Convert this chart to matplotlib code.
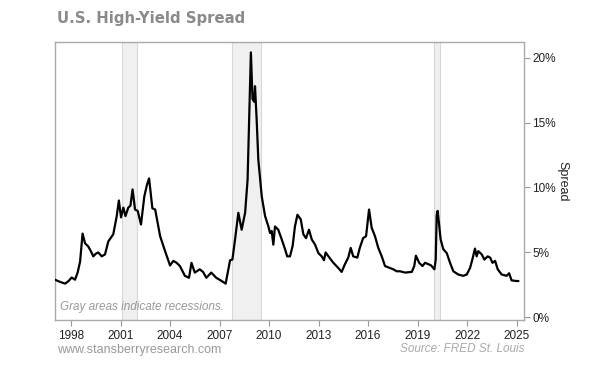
import numpy as np
import matplotlib
matplotlib.use("Agg")
import matplotlib.pyplot as plt
from matplotlib.ticker import FuncFormatter

# approximate high-yield spread readings (decimal year, percent)
years = [1997.03, 1997.3, 1997.64, 1997.85, 1998.04, 1998.24, 1998.4, 1998.55, 1998.7,
         1998.85, 1999.05, 1999.2, 1999.35, 1999.5, 1999.65, 1999.86, 2000.06, 2000.26,
         2000.56, 2000.77, 2000.9, 2001.03, 2001.17, 2001.3, 2001.47, 2001.6, 2001.73,
         2001.88, 2002.04, 2002.24, 2002.44, 2002.6, 2002.73, 2002.93, 2003.1, 2003.4,
         2003.7, 2004.0, 2004.2, 2004.4, 2004.6, 2004.9, 2005.15, 2005.3, 2005.5, 2005.8,
         2006.0, 2006.2, 2006.5, 2006.8, 2007.13, 2007.37, 2007.5, 2007.64, 2007.78,
         2007.94, 2008.14, 2008.34, 2008.55, 2008.7, 2008.79, 2008.9, 2009.0, 2009.1,
         2009.15, 2009.25, 2009.35, 2009.56, 2009.76, 2009.96, 2010.06, 2010.16, 2010.26,
         2010.36, 2010.56, 2010.77, 2010.97, 2011.1, 2011.27, 2011.43, 2011.57, 2011.72,
         2011.92, 2012.08, 2012.24, 2012.42, 2012.59, 2012.79, 2012.99, 2013.19, 2013.33,
         2013.43, 2013.6, 2013.9, 2014.2, 2014.4, 2014.6, 2014.8, 2014.95, 2015.1, 2015.35,
         2015.5, 2015.7, 2015.88, 2016.06, 2016.22, 2016.42, 2016.62, 2016.83, 2017.03,
         2017.33, 2017.53, 2017.74, 2017.94, 2018.24, 2018.65, 2018.8, 2018.9, 2019.1,
         2019.3, 2019.45, 2019.65, 2019.82, 2020.02, 2020.1, 2020.16, 2020.22, 2020.32,
         2020.4, 2020.56, 2020.77, 2020.97, 2021.17, 2021.47, 2021.77, 2021.98, 2022.18,
         2022.32, 2022.48, 2022.58, 2022.68, 2022.89, 2023.05, 2023.25, 2023.4, 2023.54,
         2023.7, 2023.86, 2024.1, 2024.4, 2024.55, 2024.7, 2025.0, 2025.1]
spread = [2.9, 2.75, 2.6, 2.8, 3.07, 2.9, 3.45, 4.3, 6.45,
          5.7, 5.45, 5.1, 4.7, 4.9, 5.0, 4.7, 4.85, 5.85,
          6.4, 7.8, 9.0, 7.7, 8.45, 7.8, 8.45, 8.6, 9.85,
          8.3, 8.2, 7.15, 9.3, 10.2, 10.7, 8.4, 8.3, 6.25,
          5.1, 4.0, 4.35, 4.2, 3.95, 3.2, 3.05, 4.2, 3.45, 3.7,
          3.5, 3.05, 3.45, 3.05, 2.8, 2.6, 3.45, 4.4, 4.45,
          6.0, 8.05, 6.75, 8.05, 10.6, 15.0, 20.4, 16.8, 16.6,
          17.8, 15.2, 12.15, 9.3, 7.8, 7.0, 6.5, 6.65, 5.6,
          7.0, 6.75, 6.0, 5.25, 4.7, 4.7, 5.5, 7.0, 7.9,
          7.55, 6.4, 6.1, 6.75, 6.0, 5.6, 4.95, 4.7, 4.4,
          5.0, 4.7, 4.2, 3.8, 3.5, 4.1, 4.6, 5.35, 4.7, 4.6,
          5.35, 6.1, 6.25, 8.3, 6.9, 6.25, 5.35, 4.7, 3.95,
          3.8, 3.7, 3.55, 3.55, 3.45, 3.5, 3.95, 4.75, 4.2,
          3.95, 4.2, 4.1, 4.0, 3.7, 4.45, 7.9, 8.2, 7.0,
          6.0, 5.25, 4.95, 4.2, 3.55, 3.3, 3.2, 3.3, 3.8,
          4.45, 5.3, 4.7, 5.1, 4.85, 4.45, 4.7, 4.6, 4.2,
          4.35, 3.7, 3.3, 3.2, 3.4, 2.85, 2.8, 2.8]

recessions = [(2001.08, 2002.02), (2007.74, 2009.5), (2020.02, 2020.36)]
xtick_years = [1998, 2001, 2004, 2007, 2010, 2013, 2016, 2019, 2022, 2025]
ytick_vals = [0, 5, 10, 15, 20]

fig = plt.figure(figsize=(6, 3.74), dpi=100)
ax = fig.add_axes([0.0917, 0.1444, 0.7816, 0.7433])

for start, end in recessions:
    ax.axvspan(start, end, facecolor="#f0f0f0", edgecolor="#d8d8d8", linewidth=0.8, zorder=0)

ax.plot(years, spread, color="black", linewidth=1.6, zorder=3)

ax.set_xlim(1997.03, 2025.45)
ax.set_ylim(-0.2, 21.2)
ax.set_xticks(xtick_years)
ax.set_yticks(ytick_vals)
ax.yaxis.set_major_formatter(FuncFormatter(lambda v, p: "%d%%" % v))
ax.yaxis.tick_right()
ax.yaxis.set_label_position("right")
ax.tick_params(axis="both", colors="#999999", labelcolor="#222222", labelsize=8.5,
               length=4, width=0.8)
ax.tick_params(axis="y", pad=2)
for s in ax.spines.values():
    s.set_color("#aaaaaa")
    s.set_linewidth(1.0)
ax.set_ylabel("Spread", rotation=270, labelpad=9, fontsize=9, color="#222222")

ax.text(0.01, 0.035, "Gray areas indicate recessions.", transform=ax.transAxes,
        fontsize=8.5, style="italic", color="#999999", family="Liberation Sans")

fig.text(57 / 600, 1 - 18 / 374, "U.S. High-Yield Spread", fontsize=10.7, fontweight="bold",
         color="#8a8a8a", va="center", ha="left")
fig.text(57 / 600, 1 - 350 / 374, "www.stansberryresearch.com", fontsize=9,
         color="#999999", va="center", ha="left", family="Liberation Sans")
fig.text(525 / 600, 1 - 349 / 374, "Source: FRED St. Louis", fontsize=8.5, style="italic",
         color="#aaaaaa", va="center", ha="right", family="Liberation Sans")

for lab in ax.get_xticklabels() + ax.get_yticklabels():
    lab.set_family("Liberation Sans")
ax.yaxis.label.set_family("Liberation Sans")

fig.savefig("out.png", dpi=100)
